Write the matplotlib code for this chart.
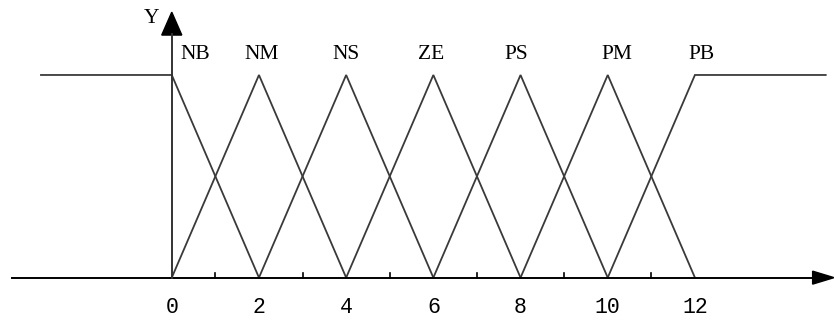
import matplotlib
matplotlib.use("Agg")
import matplotlib.pyplot as plt
from matplotlib.patches import Polygon

# ---- data ----
labels = ["NB", "NM", "NS", "ZE", "PS", "PM", "PB"]
centers = [0, 2, 4, 6, 8, 10, 12]
half_width = 2
left_shoulder_start = -3
right_shoulder_end = 15
major_ticks = [0, 2, 4, 6, 8, 10, 12]
minor_ticks = [1, 3, 5, 7, 9, 11]
label_x = [0.55, 2.05, 4.0, 5.95, 7.9, 10.2, 12.15]

fig = plt.figure(figsize=(8.34, 3.2), dpi=100)
ax = fig.add_axes([0, 0, 1, 1])
ax.set_xlim(-3.94, 15.19)
ax.set_ylim(-0.209, 1.37)
ax.axis("off")

serif = dict(family=["Liberation Serif", "DejaVu Serif"], fontsize=15.5)
mono = dict(family=["Liberation Mono", "DejaVu Sans Mono"], fontsize=15.5)
line_col = "#3a3a3a"
lw = 1.3

for i, (c, lab) in enumerate(zip(centers, labels)):
    if i == 0:
        xs = [left_shoulder_start, c, c + half_width]
        ys = [1, 1, 0]
    elif i == len(centers) - 1:
        xs = [c - half_width, c, right_shoulder_end]
        ys = [0, 1, 1]
    else:
        xs = [c - half_width, c, c + half_width]
        ys = [0, 1, 0]
    ax.plot(xs, ys, color=line_col, lw=lw, solid_joinstyle="miter")
    ax.text(label_x[i], 1.10, lab, ha="center", va="center", **serif)

# axes lines
ax.plot([-3.66, 14.7], [0, 0], color="black", lw=1.4)
ax.add_patch(Polygon([[14.7, 0.032], [15.19, 0], [14.7, -0.032]],
                     closed=True, color="black"))
ax.plot([0, 0], [0, 1.2], color="#333333", lw=1.4)
ax.add_patch(Polygon([[-0.23, 1.197], [0, 1.31], [0.23, 1.197]],
                     closed=True, color="black"))
ax.text(-0.47, 1.28, "Y", ha="center", va="center", **serif)

# ticks
for t in minor_ticks:
    ax.plot([t, t], [0, 0.025], color="black", lw=1.2)
for t in major_ticks:
    ax.text(t, -0.145, str(t), ha="center", va="center", **mono)

fig.savefig("out.png", dpi=100)
